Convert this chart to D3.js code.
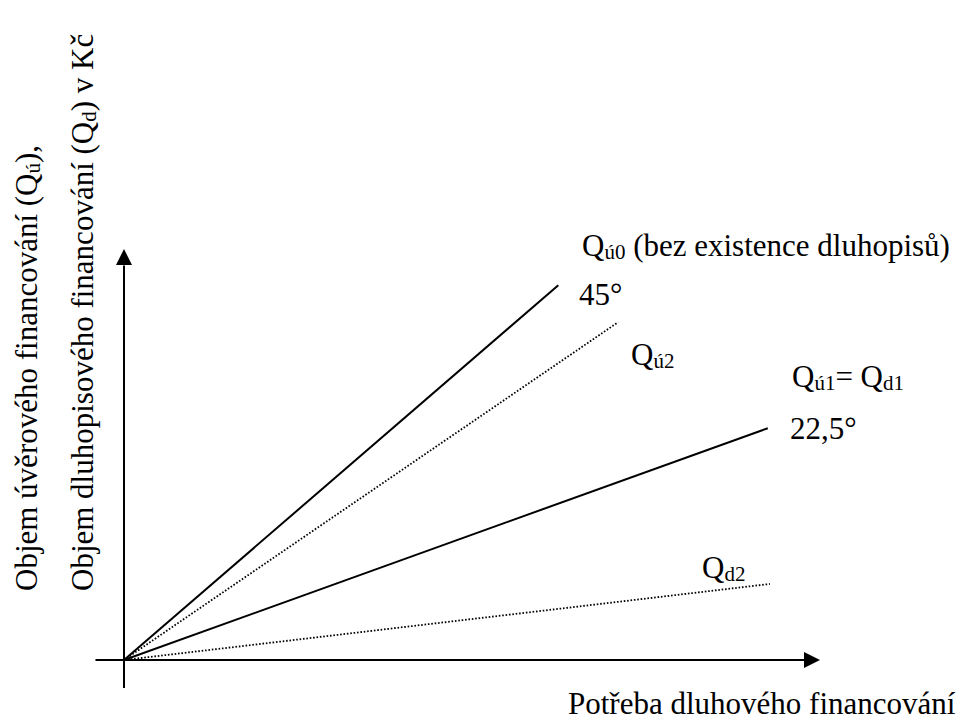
<!DOCTYPE html>
<html><head><meta charset="utf-8">
<script src="https://cdn.jsdelivr.net/npm/d3@7/dist/d3.min.js"></script>
<style>
html,body{margin:0;padding:0;background:#fff;}
svg{display:block;}
text{font-family:"Liberation Serif","Times New Roman",serif;fill:#000;}
</style></head>
<body>
<script>
// ---- data ----
const lineNames = ["Qú0", "Qú2", "Qú1", "Qd2"];
const lineEndX = [0.624, 0.710, 0.925, 0.928];
const lineEndY = [0.912, 0.822, 0.564, 0.185];
const lineDotted = [false, true, false, true];
const angleLabels = ["45°", "22,5°"];
const xAxisLabel = "Potřeba dluhového financování";
const yAxisLabel1 = ["Objem úvěrového financování (Q", "ú", "),"];
const yAxisLabel2 = ["Objem dluhopisového financování (Q", "d", ") v Kč"];

const W = 969, H = 720;
const svg = d3.select("body").append("svg").attr("width", W).attr("height", H);

const x = d3.scaleLinear().domain([0, 1]).range([124, 820]);
const y = d3.scaleLinear().domain([0, 1]).range([660, 249]);

// axes
svg.append("line").attr("x1", x(-0.041)).attr("x2", x(0.977)).attr("y1", y(0)).attr("y2", y(0))
  .attr("stroke", "#000").attr("stroke-width", 2);
svg.append("line").attr("x1", x(0)).attr("x2", x(0)).attr("y1", y(-0.068)).attr("y2", y(0.96))
  .attr("stroke", "#000").attr("stroke-width", 2);
// arrowheads
svg.append("path").attr("d", `M${x(1)},${y(0)} L${x(1)-16},${y(0)-8} L${x(1)-16},${y(0)+8} Z`).attr("fill", "#000");
svg.append("path").attr("d", `M${x(0)},${y(1)} L${x(0)-8},${y(1)+16} L${x(0)+8},${y(1)+16} Z`).attr("fill", "#000");

// lines
const lineGen = d3.line().x(d => x(d[0])).y(d => y(d[1]));
lineNames.forEach((n, i) => {
  svg.append("path")
    .attr("d", lineGen([[0, 0], [lineEndX[i], lineEndY[i]]]))
    .attr("fill", "none").attr("stroke", "#000")
    .attr("stroke-width", lineDotted[i] ? 1.8 : 2)
    .attr("stroke-dasharray", lineDotted[i] ? "1.6,1.8" : null);
});

const FS = 31, SUB = 21;
function subLabel(px, py, parts) {
  const t = svg.append("text").attr("x", px).attr("y", py).attr("font-size", FS);
  let prevSub = false;
  parts.forEach(([s, sub]) => {
    const ts = t.append("tspan").text(s).attr("font-size", sub ? SUB : FS);
    if (sub && !prevSub) ts.attr("dy", 3);
    if (!sub && prevSub) ts.attr("dy", -3);
    prevSub = sub;
  });
  return t;
}

subLabel(582, 256, [["Q", false], ["ú0", true], [" (bez existence dluhopisů)", false]]);
svg.append("text").attr("x", 579).attr("y", 305).attr("font-size", FS).text(angleLabels[0]);
subLabel(631, 365, [["Q", false], ["ú2", true]]);
subLabel(792, 387, [["Q", false], ["ú1", true], ["= Q", false], ["d1", true]]);
svg.append("text").attr("x", 790).attr("y", 439).attr("font-size", FS).text(angleLabels[1]);
subLabel(702, 578, [["Q", false], ["d2", true]]);

svg.append("text").attr("x", 568).attr("y", 714).attr("font-size", FS).text(xAxisLabel);

function rotLabel(bx, parts) {
  const g = svg.append("g").attr("transform", `translate(${bx},591) rotate(-90)`);
  const t = g.append("text").attr("x", 0).attr("y", 0).attr("font-size", FS);
  t.append("tspan").text(parts[0]);
  t.append("tspan").text(parts[1]).attr("font-size", SUB).attr("dy", 3);
  t.append("tspan").text(parts[2]).attr("dy", -3);
}
rotLabel(37, yAxisLabel1);
rotLabel(93, yAxisLabel2);
</script>
</body></html>
